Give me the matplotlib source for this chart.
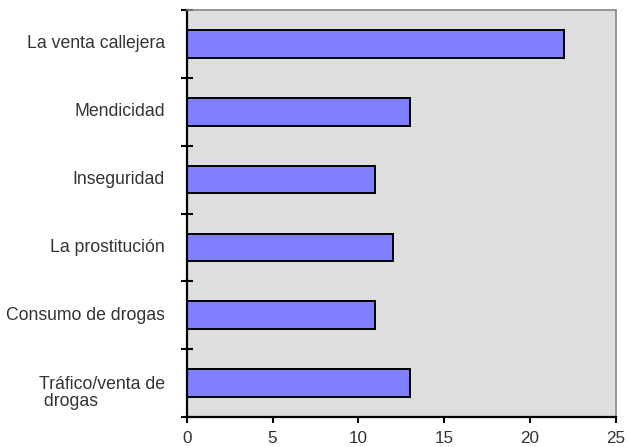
import matplotlib
matplotlib.use("Agg")
import matplotlib.pyplot as plt
import matplotlib.transforms as mtransforms

categories = ["La venta callejera", "Mendicidad", "Inseguridad",
              "La prostitución", "Consumo de drogas", "Tráfico/venta de\n drogas"]
values = [22, 13, 11, 12, 11, 13]
xticks = [0, 5, 10, 15, 20, 25]

plt.rcParams['font.family'] = ['Liberation Sans', 'DejaVu Sans']

fig = plt.figure(figsize=(6.28, 4.47), dpi=100)
ax = fig.add_axes([0.2973, 0.0671, 0.6831, 0.9105])
ax.set_facecolor('#DEDEDE')

n = len(categories)
ypos = list(range(n - 1, -1, -1))
ax.barh(ypos, values, height=0.41, color='#8080FF', edgecolor='black', linewidth=1.4)

ax.set_xlim(0, 25)
ax.set_ylim(-0.5, n - 0.5)
ax.set_xticks(xticks)
ax.set_xticklabels([str(t) for t in xticks], fontsize=12.3, color='#333333')
ax.set_yticks([i - 0.5 for i in range(n + 1)])
ax.set_yticklabels([])
ax.tick_params(axis='y', direction='inout', length=9, width=1.5, color='black')
ax.tick_params(axis='x', direction='out', length=4.5, width=1.5, color='black', pad=5.5)

for s in ['left', 'bottom']:
    ax.spines[s].set_color('black')
    ax.spines[s].set_linewidth(1.6)
for s in ['top', 'right']:
    ax.spines[s].set_color('#888888')
    ax.spines[s].set_linewidth(1.2)

trans = mtransforms.blended_transform_factory(ax.transAxes, ax.transData)
for y, lab in zip(ypos, categories):
    if '\n' in lab:
        ax.text(-0.0506, y + 0.1, lab, transform=trans, ha='right', va='top',
                multialignment='left', fontsize=12.7, color='#333333', linespacing=1.0)
    else:
        ax.text(-0.0506, y, lab, transform=trans, ha='right', va='center',
                fontsize=12.7, color='#333333')

fig.savefig("out.png", dpi=100)
